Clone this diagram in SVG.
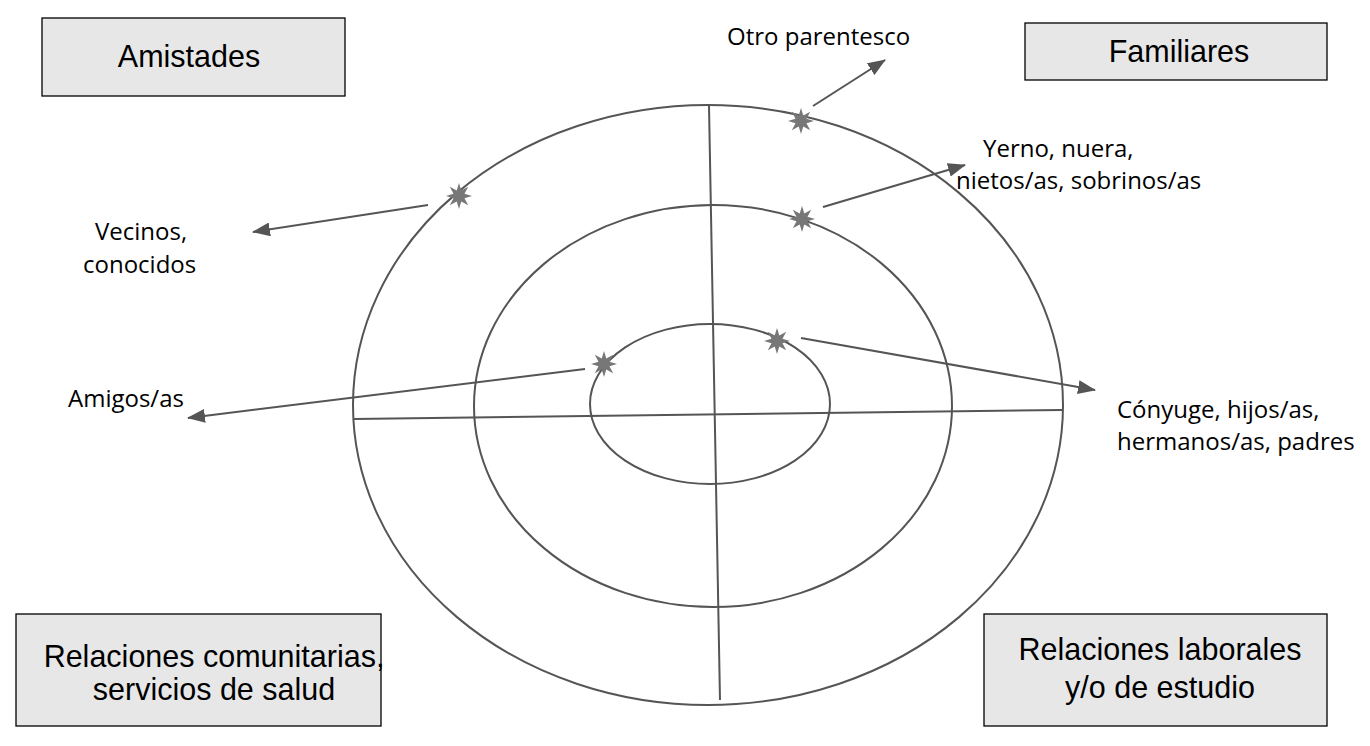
<svg xmlns="http://www.w3.org/2000/svg" width="1370" height="746" viewBox="0 0 1370 746">
<defs>
<style>
.box{fill:#e7e7e7;stroke:#000;stroke-width:1.3}
.bt{font-family:"Liberation Sans",Arial,sans-serif;font-size:30.5px;fill:#000;text-anchor:middle}
.lb{font-family:"Open Sans","Liberation Sans",sans-serif;font-size:24px;fill:#000}
.ring{fill:none;stroke:#555;stroke-width:2}
.ax{stroke:#555;stroke-width:2;fill:none}
.ar{stroke:#555;stroke-width:2;fill:none;marker-end:url(#ah)}
.st{fill:#777}
</style>
<marker id="ah" markerWidth="18" markerHeight="14" refX="17" refY="7" orient="auto" markerUnits="userSpaceOnUse" viewBox="0 0 18 14">
<path d="M0,0 L18,7 L0,14 Z" fill="#555"/>
</marker>
<polygon id="star" class="st" points="0,-13 2.3,-5.5 9.2,-9.2 5.5,-2.3 13,0 5.5,2.3 9.2,9.2 2.3,5.5 0,13 -2.3,5.5 -9.2,9.2 -5.5,2.3 -13,0 -5.5,-2.3 -9.2,-9.2 -2.3,-5.5"/>
</defs>
<rect width="1370" height="746" fill="#fff"/>
<g id="rings">
<ellipse class="ring" cx="708" cy="405" rx="355" ry="300"/>
<ellipse class="ring" cx="713" cy="406" rx="239" ry="201"/>
<ellipse class="ring" cx="710" cy="404" rx="120" ry="80"/>
<line class="ax" x1="709" y1="106" x2="720" y2="700"/>
<line class="ax" x1="354" y1="419" x2="1062" y2="410"/>
</g>
<g id="connectors">
<line class="ar" x1="813" y1="106" x2="885" y2="60"/>
<line class="ar" x1="823" y1="207" x2="965" y2="165"/>
<line class="ar" x1="428" y1="205" x2="253" y2="232"/>
<line class="ar" x1="585" y1="369" x2="188" y2="418"/>
<line class="ar" x1="801" y1="338" x2="1095" y2="390"/>
</g>
<g id="stars">
<use href="#star" x="801" y="121"/>
<use href="#star" x="802" y="219"/>
<use href="#star" x="459" y="196"/>
<use href="#star" x="604" y="364"/>
<use href="#star" x="777" y="341"/>
</g>
<g id="amistades"><rect class="box" x="42" y="18" width="303" height="78"/><text class="bt" x="189" y="67">Amistades</text></g>
<g id="familiares"><rect class="box" x="1025" y="23" width="302" height="57"/><text class="bt" x="1179" y="62">Familiares</text></g>
<g id="comunitarias"><rect class="box" x="16" y="614" width="365" height="112"/><text class="bt" x="214" y="667">Relaciones comunitarias,</text><text class="bt" x="214" y="700">servicios de salud</text></g>
<g id="laborales"><rect class="box" x="984" y="614" width="343" height="112"/><text class="bt" x="1160" y="660">Relaciones laborales</text><text class="bt" x="1160" y="698">y/o de estudio</text></g>
<g id="labels">
<text class="lb" x="727" y="45">Otro parentesco</text>
<text class="lb" x="983" y="157">Yerno, nuera,</text>
<text class="lb" x="956" y="189">nietos/as, sobrinos/as</text>
<text class="lb" x="95" y="240">Vecinos,</text>
<text class="lb" x="83" y="273">conocidos</text>
<text class="lb" x="68" y="407">Amigos/as</text>
<text class="lb" x="1117" y="418">Cónyuge, hijos/as,</text>
<text class="lb" x="1117" y="450">hermanos/as, padres</text>
</g>
</svg>
